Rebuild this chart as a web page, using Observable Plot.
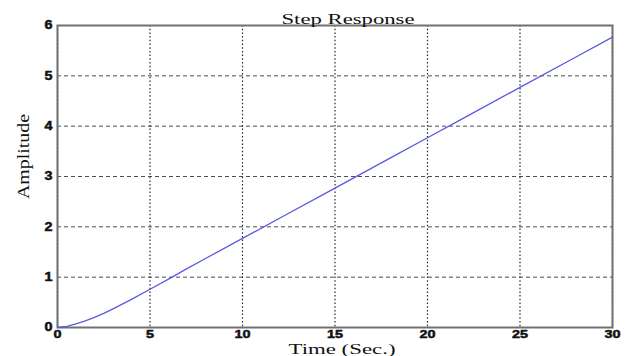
<!DOCTYPE html>
<html>
<head>
<meta charset="utf-8">
<script src="https://cdn.jsdelivr.net/npm/d3@7"></script>
<script src="https://cdn.jsdelivr.net/npm/@observablehq/plot@0.6"></script>
<style>
  html, body { margin: 0; padding: 0; background: #fff; }
</style>
</head>
<body>
<div id="chart"></div>
<script>
const titleText = "Step Response";
const xLabel = "Time (Sec.)";
const yLabel = "Amplitude";
const xTicks = [0, 5, 10, 15, 20, 25, 30];
const yTicks = [0, 1, 2, 3, 4, 5, 6];
const time = [0, 0.5, 1, 1.5, 2, 2.5, 3, 4, 5, 6, 7, 8, 10, 12, 15, 18, 20, 22, 25, 28, 30];
const amplitude = [0, 0.02, 0.07, 0.13, 0.2, 0.28, 0.37, 0.56, 0.76, 0.96, 1.17, 1.37, 1.77, 2.17, 2.77, 3.37, 3.77, 4.17, 4.77, 5.37, 5.77];

const data = time.map((t, i) => ({t, a: amplitude[i]}));

const serif = "'Liberation Serif', 'DejaVu Serif', serif";
const sans = "'Liberation Sans', Arial, sans-serif";

const chart = Plot.plot({
  width: 629,
  height: 356,
  marginLeft: 57,
  marginRight: 17,
  marginTop: 25,
  marginBottom: 29,
  style: {background: "#fff", overflow: "visible"},
  x: {domain: [0, 30], ticks: xTicks},
  y: {domain: [0, 6], ticks: yTicks},
  marks: [
    Plot.gridX(xTicks, {stroke: "#000", strokeOpacity: 0.85, strokeWidth: 1.2, strokeDasharray: "1.5,2.2"}),
    Plot.gridY(yTicks, {stroke: "#222", strokeOpacity: 0.8, strokeWidth: 1, strokeDasharray: "4,3"}),
    Plot.frame({stroke: "#707070", strokeWidth: 2}),
    Plot.axisX(xTicks, {tickSize: 0, tickPadding: 2, fontSize: 11.5, fontWeight: "bold", fontFamily: sans, fill: "#111", label: null, tickFormat: "d"}),
    Plot.axisY(yTicks, {tickSize: 0, tickPadding: 5, fontSize: 12, fontWeight: "bold", fontFamily: sans, fill: "#111", label: null, tickFormat: "d"}),
    Plot.line(data, {x: "t", y: "a", stroke: "#5a5ae0", strokeWidth: 1.3}),
    Plot.text([titleText], {frameAnchor: "top", lineAnchor: "bottom", dx: 13, dy: -2, fontSize: 14, fontFamily: serif, fill: "#111", className: "ttl"}),
    Plot.text([xLabel], {frameAnchor: "bottom", lineAnchor: "bottom", dx: 7, dy: 26.5, fontSize: 14.5, fontFamily: serif, fill: "#111", className: "xl"}),
    Plot.text([yLabel], {frameAnchor: "left", textAnchor: "middle", lineAnchor: "middle", rotate: -90, dx: -34, dy: -20, fontSize: 17, fontFamily: serif, fill: "#111", className: "yl"})
  ]
});

document.getElementById("chart").appendChild(chart);

// horizontal stretch of the reference text
const svg = d3.select(chart);
svg.selectAll(".ttl text").attr("textLength", 133).attr("lengthAdjust", "spacingAndGlyphs");
svg.selectAll(".xl text").attr("textLength", 107).attr("lengthAdjust", "spacingAndGlyphs");
svg.selectAll(".yl text").attr("textLength", 85).attr("lengthAdjust", "spacingAndGlyphs");
svg.selectAll("g[aria-label='x-axis tick label'] text, g[aria-label='y-axis tick label'] text").each(function() {
  const n = this.textContent.length;
  d3.select(this).attr("textLength", n * 8).attr("lengthAdjust", "spacingAndGlyphs")
    .attr("stroke", "#111").attr("stroke-width", 0.5);
});
</script>
</body>
</html>
